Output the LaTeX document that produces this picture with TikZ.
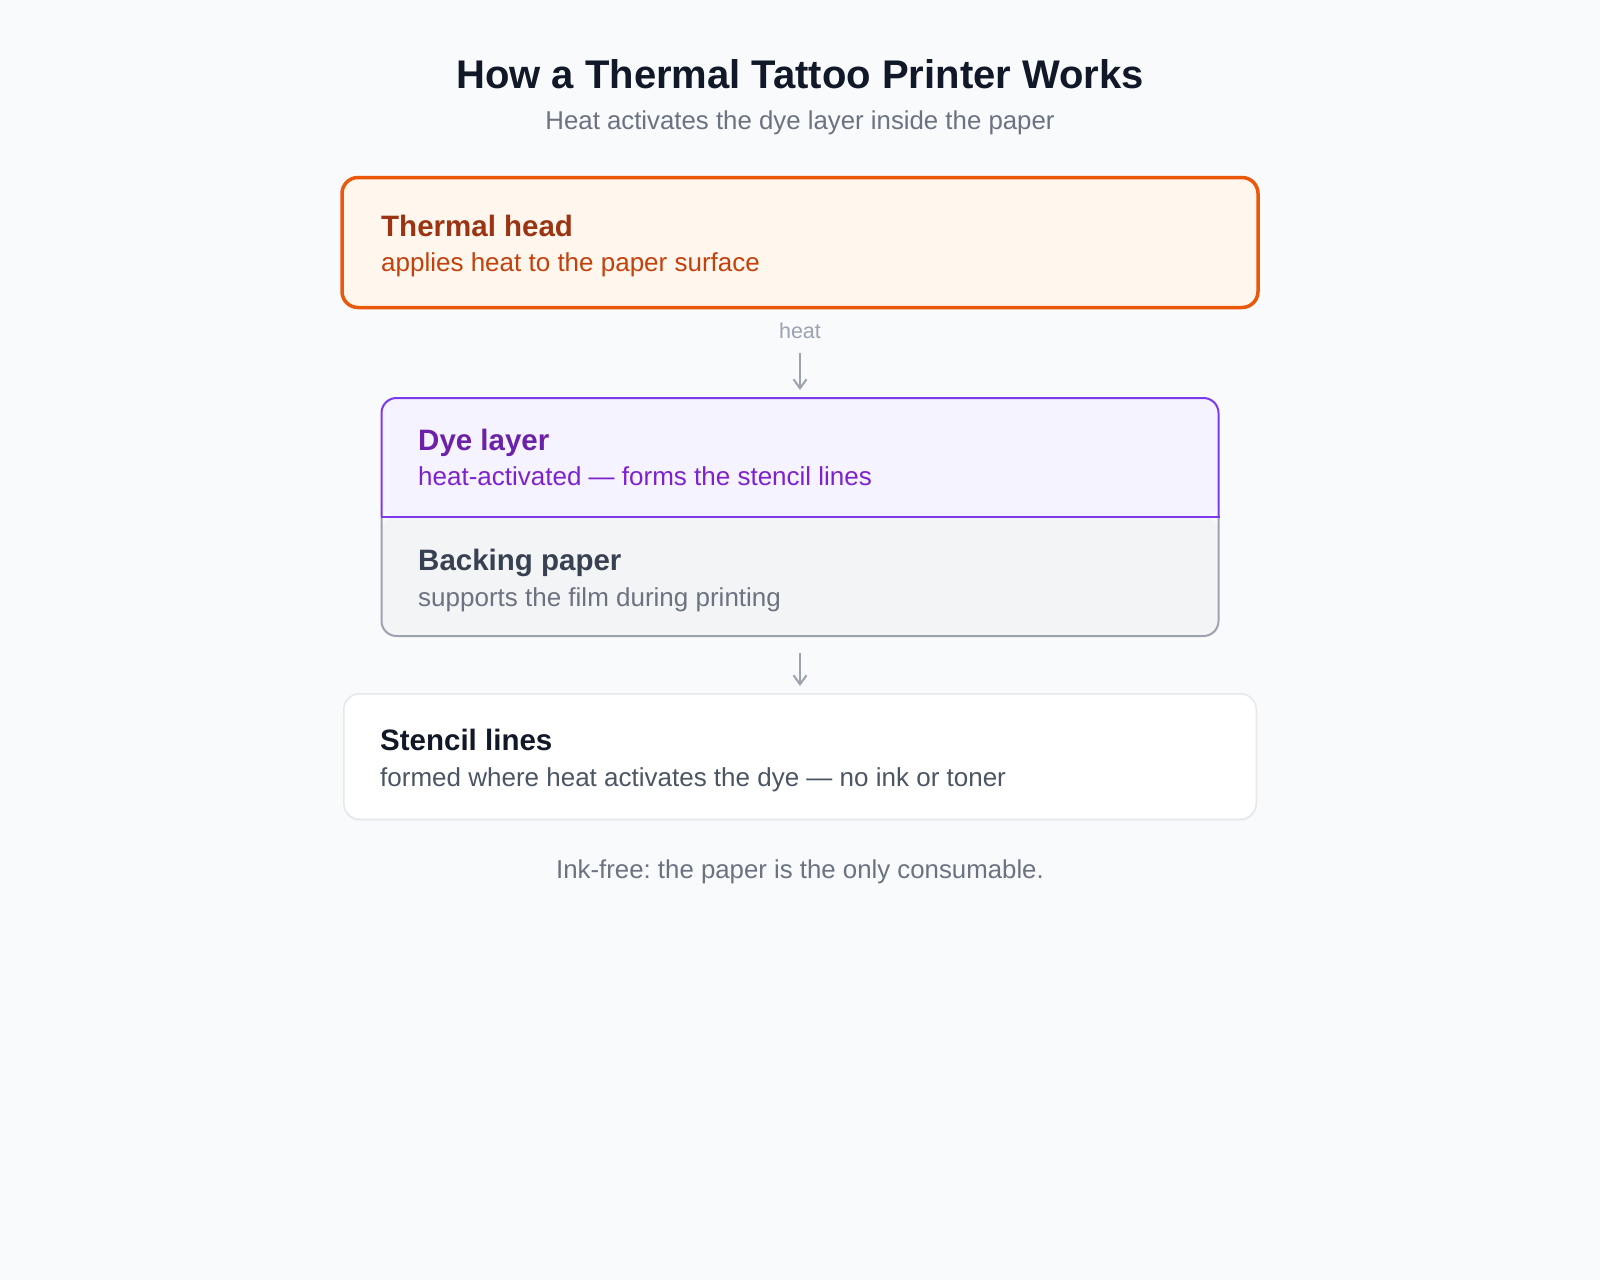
\documentclass[tikz,border=0pt]{standalone}
\usepackage{fontspec}
\setmainfont{Liberation Sans}
\usetikzlibrary{arrows.meta,shadows}
\definecolor{bg}{HTML}{F8FAFC}
\definecolor{titlec}{HTML}{111827}
\definecolor{subc}{HTML}{6B7280}
\definecolor{orangeborder}{HTML}{EA580C}
\definecolor{orangefill}{HTML}{FFF7ED}
\definecolor{orangehead}{HTML}{9A3412}
\definecolor{orangebody}{HTML}{C2410C}
\definecolor{arrowgray}{HTML}{9CA3AF}
\definecolor{purpleborder}{HTML}{7C3AED}
\definecolor{purplefill}{HTML}{F5F3FF}
\definecolor{purplehead}{HTML}{6B21A8}
\definecolor{purplebody}{HTML}{7E22CE}
\definecolor{grayfill}{HTML}{F3F4F6}
\definecolor{grayborder}{HTML}{9CA3AF}
\definecolor{grayhead}{HTML}{374151}
\definecolor{graybody}{HTML}{6B7280}
\definecolor{whiteborder}{HTML}{E5E7EB}
\definecolor{stencilbody}{HTML}{4B5563}
\frenchspacing
\begin{document}
\begin{tikzpicture}[x=1pt,y=-1pt,
  txt/.style={inner sep=0pt, anchor=base west},
  headfont/.style={font=\fontsize{29.5}{35}\selectfont\bfseries},
  bodyfont/.style={font=\fontsize{26}{31}\selectfont},
  arr/.style={draw=arrowgray, line width=2pt, -{Straight Barb[length=9pt,width=13pt]}},
  blank/.style={inner sep=0pt, outer sep=0pt}]
\fill[bg] (0,0) rectangle (1600,1280);
\useasboundingbox (0,0) rectangle (1600,1280);

% title
\node[inner sep=0pt, anchor=base, text=titlec, font=\fontsize{40}{48}\selectfont\bfseries] (title) at (800,88) {How a Thermal Tattoo Printer Works};
\node[inner sep=0pt, anchor=base, text=subc, font=\fontsize{25.8}{31}\selectfont] (subtitle) at (800,129) {Heat activates the dye layer inside the paper};

% thermal head box
\node[blank, draw=orangeborder, fill=orangefill, line width=3.5pt, rounded corners=16pt,
      minimum width=916pt, minimum height=130pt] (head) at (800,242.5) {};
\node[txt, headfont, text=orangehead] (headT) at (381,236) {Thermal head};
\node[txt, bodyfont, text=orangebody] (headB) at (381,271) {applies heat to the paper surface};

% heat label
\node[inner sep=0pt, anchor=base, text=arrowgray, font=\fontsize{21.5}{26}\selectfont] (heat) at (800,338) {heat};

% dye layer + backing paper
\node[blank, minimum width=837pt, minimum height=118.5pt] (dye) at (800,457.25) {};
\node[blank, minimum width=837pt, minimum height=119.5pt] (back) at (800,576.25) {};
\fill[grayfill, rounded corners=15pt] (back.north west) -- (back.south west) -- (back.south east) -- (back.north east) -- cycle;
\draw[grayborder, line width=2pt, rounded corners=15pt] (back.north west) -- (back.south west) -- (back.south east) -- (back.north east);
\fill[purplefill, rounded corners=15pt] (dye.south west) -- (dye.north west) -- (dye.north east) -- (dye.south east) -- cycle;
\draw[purpleborder, line width=2pt, rounded corners=15pt] (dye.south west) -- (dye.north west) -- (dye.north east) -- (dye.south east);
\draw[purpleborder, line width=2pt] ([xshift=-1pt]dye.south west) -- ([xshift=1pt]dye.south east);

\node[txt, headfont, text=purplehead] (dyeT) at (418,450) {Dye layer};
\node[txt, bodyfont, text=purplebody] (dyeB) at (418,485) {heat-activated — forms the stencil lines};
\node[txt, headfont, text=grayhead] (backT) at (418,570) {Backing paper};
\node[txt, bodyfont, text=graybody] (backB) at (418,606) {supports the film during printing};

% stencil lines box
\node[blank, draw=whiteborder, fill=white, line width=1.5pt, rounded corners=16pt,
      minimum width=912.5pt, minimum height=125.5pt,
      drop shadow={opacity=0.06, shadow xshift=0pt, shadow yshift=-2pt}] (stencil) at (800,756.5) {};
\node[txt, headfont, text=titlec] (stencilT) at (380,750) {Stencil lines};
\node[txt, bodyfont, text=stencilbody] (stencilB) at (380,786) {formed where heat activates the dye — no ink or toner};

% arrows
\draw[arr] ([yshift=-14.5pt]heat.south) -- ([yshift=8pt]dye.north);
\draw[arr] ([yshift=-17pt]back.south) -- ([yshift=7.75pt]stencil.north);

% footer
\node[inner sep=0pt, anchor=base, text=subc, font=\fontsize{25.8}{31}\selectfont] (footer) at (800,878) {Ink-free: the paper is the only consumable.};
\end{tikzpicture}
\end{document}
